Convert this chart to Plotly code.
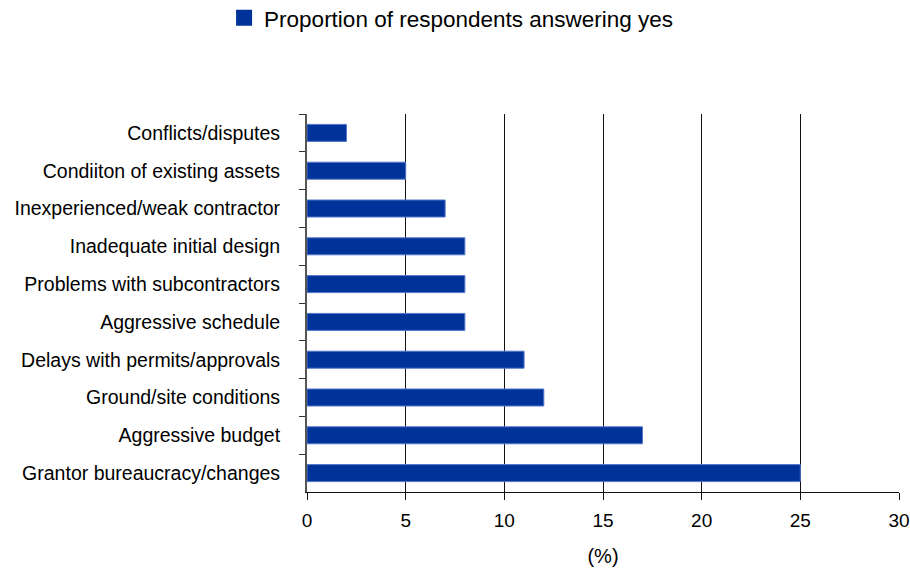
import plotly.graph_objects as go

categories = [
    "Conflicts/disputes",
    "Condiiton of existing assets",
    "Inexperienced/weak contractor",
    "Inadequate initial design",
    "Problems with subcontractors",
    "Aggressive schedule",
    "Delays with permits/approvals",
    "Ground/site conditions",
    "Aggressive budget",
    "Grantor bureaucracy/changes",
]
values = [2, 5, 7, 8, 8, 8, 11, 12, 17, 25]
x_ticks = [0, 5, 10, 15, 20, 25, 30]
series_name = "Proportion of respondents answering yes"
bar_color = "#003399"

fig = go.Figure()
fig.add_trace(go.Bar(
    x=values,
    y=categories,
    orientation="h",
    name=series_name,
    marker=dict(color=bar_color, line=dict(color="#5577cc", width=1)),
    showlegend=False,
))
# legend proxy with a larger square swatch
fig.add_trace(go.Scatter(
    x=[None], y=[None], mode="markers", name=series_name,
    marker=dict(symbol="square", size=16, color=bar_color),
    showlegend=True,
))

fig.update_layout(
    width=910, height=569,
    paper_bgcolor="white", plot_bgcolor="white",
    margin=dict(l=307, r=11, t=114, b=77, autoexpand=False),
    font=dict(family="Liberation Sans, Arial, sans-serif", size=19.5, color="black"),
    bargap=0.55,
    showlegend=True,
    legend=dict(
        orientation="h",
        xref="container", yref="container",
        x=0.4957, xanchor="center", y=0.968, yanchor="middle",
        font=dict(size=22.5),
        itemwidth=30,
    ),
    xaxis=dict(
        range=[0, 30],
        tickvals=x_ticks,
        showgrid=True, gridcolor="#111111", gridwidth=1,
        showline=True, linecolor="#111111", linewidth=1,
        ticks="outside", ticklen=7, tickcolor="#111111",
        zeroline=False,
        automargin=False,
        ticklabelstandoff=4,
        title=dict(text="(%)", font=dict(size=20), standoff=19),
        tickfont=dict(size=19),
    ),
    yaxis=dict(
        categoryorder="array", categoryarray=categories,
        autorange="reversed",
        showline=True, linecolor="#555555", linewidth=2,
        ticks="outside", ticklen=6, tickcolor="#333333",
        tickson="boundaries",
        showgrid=False,
        automargin=False,
        ticklabelstandoff=21,
        tickfont=dict(size=19.5),
    ),
)

fig.write_html(
    "out.html",
    config={"displayModeBar": False},
    post_script="document.body.style.margin='0';document.body.style.overflow='hidden';",
)
